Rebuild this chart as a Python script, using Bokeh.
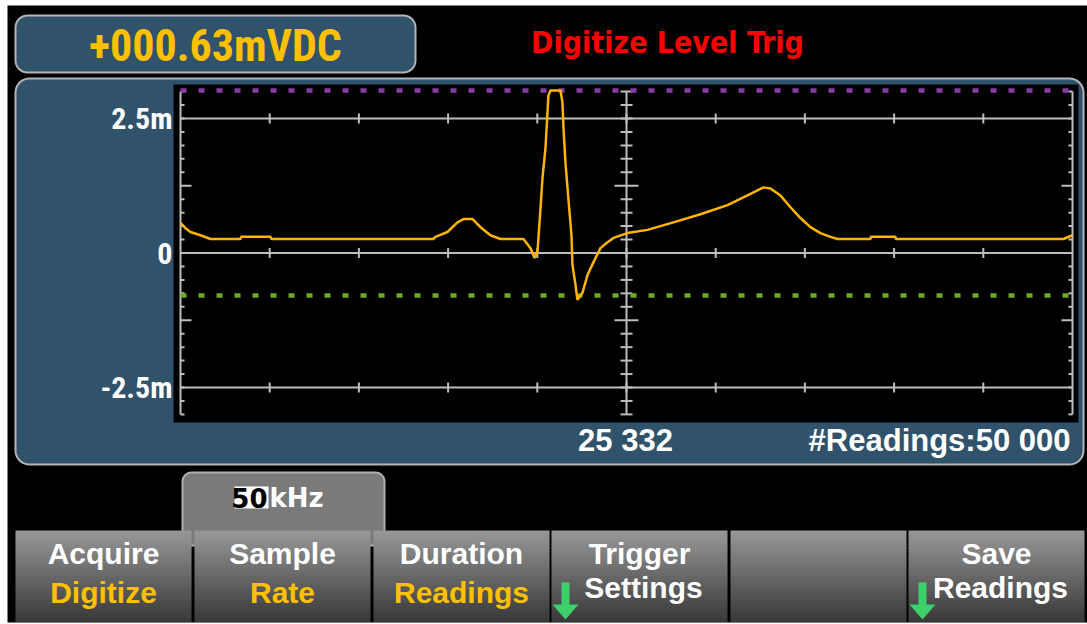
import numpy as np
from bokeh.plotting import figure
from bokeh.models import Range1d
from bokeh.core.properties import value
from bokeh.embed import file_html
from bokeh.resources import INLINE

# ---------------- data ----------------
readings = [0, 280, 560, 1120, 1680, 3360, 3400, 5045, 5100, 14180, 14290, 14965, 15525,
            15860, 16370, 16815, 17375, 17935, 19225, 19620, 19840, 20010, 20180, 20290,
            20460, 20625, 20740, 21300, 21410, 21470, 21580, 21750, 21915, 21970, 22140,
            22250, 22530, 22815, 23150, 23540, 23935, 24270, 25055, 26175, 27630, 29145,
            30660, 31780, 32680, 33070, 33630, 34190, 34750, 35310, 35870, 36435, 36825,
            38675, 38700, 40075, 40100, 49490, 50000]
voltage_mV = [0.56, 0.46, 0.39, 0.33, 0.26, 0.26, 0.30, 0.30, 0.26, 0.26, 0.30, 0.39, 0.57,
              0.63, 0.63, 0.48, 0.33, 0.26, 0.26, 0.09, -0.09, 0.02, 0.83, 1.39,
              1.96, 2.93, 3.02, 3.02, 2.80, 2.31, 1.67, 0.98, 0.33, -0.22, -0.59,
              -0.87, -0.74, -0.41, -0.17, 0.09, 0.20, 0.28, 0.37, 0.43, 0.57, 0.72,
              0.89, 1.07, 1.22, 1.20, 1.07, 0.85, 0.65, 0.48, 0.37, 0.30, 0.26,
              0.26, 0.30, 0.30, 0.26, 0.26, 0.33]
total_readings = 50000
division_readings = 5000
y_tick_values = [2.5, 0.0, -2.5]
y_tick_labels = ["2.5m", "0", "-2.5m"]
minor_step_mV = 0.25
long_tick_mV = [1.25, -1.25]
axis_span_mV = 3.0
upper_marker_mV = 3.02
trigger_level_mV = -0.79
reading_display = "+000.63mVDC"
mode_title = "Digitize Level Trig"
cursor_label = "25 332"
count_label = "#Readings:50 000"
rate_digits = "50"
rate_unit = "kHz"
button_top = ["Acquire", "Sample", "Duration", "Trigger", "", "Save"]
button_bottom = ["Digitize", "Rate", "Readings", "Settings", "", "Readings"]
button_bottom_yellow = [True, True, True, False, False, False]
button_arrow = [False, False, False, True, False, True]

# ---------------- layout (screen pixels) ----------------
W, H = 1087, 624
X0, X1, Y0, Y1 = 0, W, 0, H
GL, GR = 180.0, 1072.0          # graticule left/right
ZY, PXMV = 252.5, 53.8          # zero line, pixels per mV
T_PX = total_readings / (GR - GL)


def t_of(px):
    return (px - GL) * T_PX


def v_of(py):
    return (ZY - py) / PXMV


COND_A = value("Roboto Condensed")
COND_B = value("DejaVu Sans Condensed")
SANS = value("Liberation Sans")
DJV = value("DejaVu Sans")
BLUE = "#30526b"
EDGE = "#b4b4b4"
YEL = "#ffc000"

p = figure(width=W, height=H, x_range=Range1d(X0, X1), y_range=Range1d(Y1, Y0),
           x_axis_type=None, y_axis_type=None, output_backend="svg",
           toolbar_location=None, tools="", min_border=0,
           background_fill_color="white", border_fill_color="white",
           outline_line_color=None)
p.extra_x_ranges = {"t": Range1d(t_of(X0), t_of(X1))}
p.extra_y_ranges = {"v": Range1d(v_of(Y1), v_of(Y0))}
TV = dict(x_range_name="t", y_range_name="v")


def rrect(x0, y0, x1, y1, r, n=10):
    xs, ys = [], []
    for cx, cy, a0 in [(x1 - r, y1 - r, 0), (x0 + r, y1 - r, 90),
                       (x0 + r, y0 + r, 180), (x1 - r, y0 + r, 270)]:
        for a in np.linspace(a0, a0 + 90, n):
            xs.append(cx + r * np.cos(np.radians(a)))
            ys.append(cy + r * np.sin(np.radians(a)))
    return xs, ys


def txt(x, y, s, size, color, font, align="center", **kw):
    p.text(x=[x], y=[y], text=[s], text_font=font, text_font_size=f"{size}px",
           text_font_style="bold", text_color=color, text_align=align,
           text_baseline="middle", **kw)


# instrument screen background
p.quad(left=[7], right=[1087], top=[5], bottom=[622], fill_color="black", line_color=None)

# header pill
xs, ys = rrect(15, 15, 415, 72, 12)
p.patch(xs, ys, fill_color=BLUE, line_color=EDGE, line_width=2)
txt(215, 45, reading_display, 44, YEL, COND_A)
txt(667, 42, mode_title, 30, "#ff0000", COND_B)

# main panel
xs, ys = rrect(15, 78, 1083, 464, 14)
p.patch(xs, ys, fill_color=BLUE, line_color=EDGE, line_width=2)
p.quad(left=[173], right=[1078], top=[84], bottom=[422], fill_color="black", line_color=None)

# horizontal grid lines with division ticks
GRID = "#bdbdbd"
p.segment(x0=[0] * 3, x1=[total_readings] * 3, y0=y_tick_values, y1=y_tick_values,
          line_color=GRID, line_width=2, **TV)
divs = [k * division_readings for k in range(1, total_readings // division_readings)]
gx, gy0, gy1 = [], [], []
for yv in y_tick_values:
    for d in divs:
        gx.append(d); gy0.append(yv - 5 / PXMV); gy1.append(yv + 5 / PXMV)
p.segment(x0=gx, x1=gx, y0=gy0, y1=gy1, line_color=GRID, line_width=2, **TV)

# vertical axes (left, centre, right)
centre = total_readings / 2
for xv in [0, centre, total_readings]:
    p.segment(x0=[xv], x1=[xv], y0=[-axis_span_mV], y1=[axis_span_mV],
              line_color=GRID, line_width=2, **TV)
minor = np.round(np.arange(-axis_span_mV, axis_span_mV + 1e-9, minor_step_mV), 3)
lx0, lx1, ly, cx0, cx1, rx0, rx1 = [], [], [], [], [], [], []
for m in minor:
    long = any(abs(m - L) < 1e-6 for L in long_tick_mV)
    ln = (11 if long else 4) * T_PX
    cl = (12 if long else 6) * T_PX
    ly.append(m)
    lx0.append(0); lx1.append(ln)
    rx0.append(total_readings); rx1.append(total_readings - ln)
    cx0.append(centre - cl); cx1.append(centre + cl)
for a0, a1 in [(lx0, lx1), (rx0, rx1), (cx0, cx1)]:
    p.segment(x0=a0, x1=a1, y0=ly, y1=ly, line_color=GRID, line_width=2, **TV)

# marker lines
p.line([0, total_readings], [upper_marker_mV] * 2, line_color="#8a3aa6", line_width=4.5,
       line_dash="6 12", **TV)
p.line([0, total_readings], [trigger_level_mV] * 2, line_color="#70aa24", line_width=4.5,
       line_dash="6 12", **TV)

# waveform
p.line(readings, voltage_mV, line_color="#ffb400", line_width=2.5, **TV)

# y labels
p.text(x=[172] * 3, y=y_tick_values, text=y_tick_labels, text_font=COND_A,
       text_font_size="30px", text_font_style="bold", text_color="white",
       text_align="right", text_baseline="middle", y_range_name="v")

# bottom status texts
txt(625, 440, cursor_label, 31, "white", SANS)
txt(1070, 440, count_label, 31, "white", SANS, align="right")

# sample-rate tab
xs, ys = rrect(182, 472, 384, 545, 9)
p.patch(xs, ys, fill_color="#7a7a7a", line_color="#b0b0b0", line_width=2)
p.quad(left=[234], right=[268], top=[486], bottom=[508], fill_color="white", line_color=None)
txt(267, 497, rate_digits, 26, "black", DJV, align="right")
txt(269, 497, rate_unit, 26, "white", DJV, align="left")

# softkey buttons with vertical gradient
bl = [15, 194, 373, 551, 730, 908]
bw = 176
btop, bbot = 530, 621
n = 26
edges = np.linspace(btop, bbot, n + 1)
qL, qR, qT, qB, qC = [], [], [], [], []
for b in bl:
    for i in range(n):
        g = int(round(150 - (150 - 58) * i / (n - 1)))
        qL.append(b); qR.append(b + bw); qT.append(edges[i]); qB.append(edges[i + 1] + 0.6)
        qC.append(f"#{g:02x}{g:02x}{g:02x}")
p.quad(left=qL, right=qR, top=qT, bottom=qB, fill_color=qC, line_color=None)

for i, b in enumerate(bl):
    cxm = b + bw / 2
    if button_top[i]:
        txt(cxm, 553, button_top[i], 30, "white", SANS)
    if button_bottom[i]:
        if button_bottom_yellow[i]:
            txt(cxm, 592, button_bottom[i], 30, YEL, SANS)
        else:
            txt(cxm + 4, 587, button_bottom[i], 30, "white", SANS)
    if button_arrow[i]:
        ax = b + 14
        p.patch([ax - 4, ax + 4, ax + 4, ax + 13, ax, ax - 13, ax - 4],
                [582, 582, 604, 604, 619, 604, 604], fill_color="#3ccf6a", line_color=None)

open("out.html", "w").write(file_html(p, INLINE))
